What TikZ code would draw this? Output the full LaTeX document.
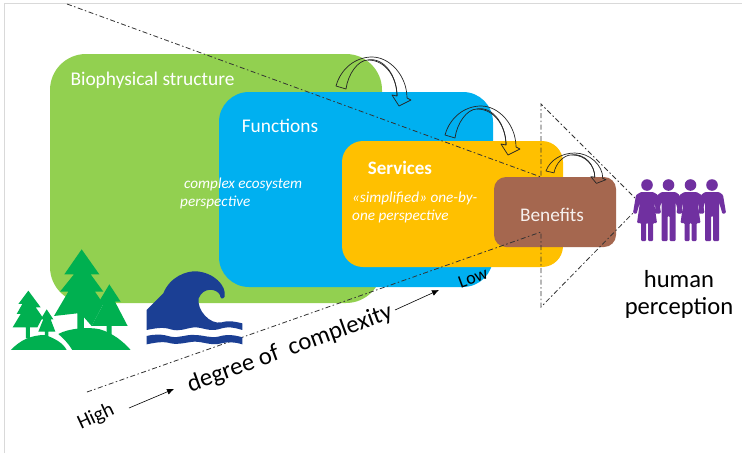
\documentclass[tikz,border=0pt]{standalone}
\usepackage{fontspec}
\setmainfont{Carlito}
\usetikzlibrary{arrows.meta}
\definecolor{gbox}{HTML}{92D050}
\definecolor{bbox}{HTML}{00B0F0}
\definecolor{obox}{HTML}{FFC000}
\definecolor{rbox}{HTML}{A5674F}
\definecolor{treecol}{HTML}{00B050}
\definecolor{wavecol}{HTML}{1B3F94}
\definecolor{ppl}{HTML}{7030A0}
\tikzset{
  wlabel/.style={text=white,inner sep=0pt},
  dashln/.style={draw=black!80,line width=.8pt,dash pattern=on 5pt off 2.5pt on 1.5pt off 2.5pt},
  bendln/.style={draw=black!85,line width=.7pt,fill=none,line join=round},
  rotlabel/.style={rotate=20,inner sep=0pt},
  zoomed/.style={x=.3333pt,y=-.3333pt}
}
\newcommand{\curvedarrow}{%
  \draw[bendln] (0,0) .. controls (5,-18) and (20,-29) .. (36,-29)
     .. controls (54,-29) and (71,-10) .. (71,12) -- (75,14) -- (63,20) -- (56,9) -- (61,10)
     .. controls (61,-8) and (50,-26) .. (32,-26)
     .. controls (22,-26) and (12,-12) .. (10,3) -- cycle;
  \draw[bendln] (32,-26) .. controls (48,-29) and (61,-10) .. (61,10);
}
\newcommand{\womanfig}{%
  \fill[ppl] (0,-25) circle (5.8);
  \fill[ppl,rounded corners=1pt] (-6,-18) -- (6,-18) -- (11,-15) -- (14,3) -- (10.5,4) -- (7,-8) -- (10,13) -- (6,13) -- (6,31) -- (1,31) -- (1,13) -- (-1,13) -- (-1,31) -- (-6,31) -- (-6,13) -- (-10,13) -- (-7,-8) -- (-10.5,4) -- (-14,3) -- (-11,-15) -- cycle;
}
\newcommand{\manfig}{%
  \fill[ppl] (0,-25) circle (5.8);
  \fill[ppl,rounded corners=1pt] (-7,-18) -- (7,-18) -- (11,-15) -- (14,3) -- (10.5,4) -- (7,-8) -- (7,31) -- (1,31) -- (1,6) -- (-1,6) -- (-1,31) -- (-7,31) -- (-7,-8) -- (-10.5,4) -- (-14,3) -- (-11,-15) -- cycle;
}
\begin{document}
\begin{tikzpicture}[x=1pt,y=-1pt]
\useasboundingbox (0,0) rectangle (742,453);
\fill[white] (0,0) rectangle (742,453);
% frame
\coordinate (fa) at (4,453); \coordinate (fb) at (4,3); \coordinate (fc) at (742,3);
\draw[black!15,line width=.7pt] (fa) -- (fb) -- (fc);
% boxes
\fill[gbox,rounded corners=36pt] (50,54) rectangle (382,303);
\fill[bbox,rounded corners=30pt] (219,92) rectangle (493,287);
\fill[obox,rounded corners=21pt] (342,141) rectangle (563,267);
\fill[rbox,rounded corners=12pt] (494,177) rectangle (616,247);
% labels in boxes
\node[wlabel,font=\fontsize{19.4}{22}\selectfont] (bio) at (152.5,80) {Biophysical structure};
\node[wlabel,font=\fontsize{19.4}{22}\selectfont] (fun) at (280,126) {Functions};
\node[wlabel,font=\fontsize{19}{22}\selectfont\bfseries] (ser) at (400,168) {Services};
\node[wlabel,font=\fontsize{15.2}{18}\selectfont\itshape,anchor=west] (ce1) at (184,184) {complex ecosystem};
\node[wlabel,font=\fontsize{15.2}{18}\selectfont\itshape,anchor=west] (ce2) at (180,202) {perspective};
\node[wlabel,font=\fontsize{15.2}{18}\selectfont\itshape,anchor=west] (si1) at (352,198) {«simplified» one-by-};
\node[wlabel,font=\fontsize{15.2}{18}\selectfont\itshape,anchor=west] (si2) at (352,216) {one perspective};
\node[text=white!90!rbox,inner sep=0pt,font=\fontsize{19.3}{22}\selectfont] (ben) at (552,215) {Benefits};
% curved arrows
\begin{scope}[shift={(336,86)}]\curvedarrow\end{scope}
\begin{scope}[shift={(445,135)}]\curvedarrow\end{scope}
\begin{scope}[shift={(546,171)},xscale=.8,yscale=.62]\curvedarrow\end{scope}
% dash-dot funnel
\coordinate (t0) at (67,4); \coordinate (t1) at (541,177); \coordinate (t2) at (541,104); \coordinate (t3) at (635,198);
\coordinate (b0) at (87,392); \coordinate (b1) at (541,232); \coordinate (b2) at (541,307); \coordinate (b3) at (635,211);
\draw[dashln] (t0) -- (t1) -- (t2) -- (t3);
\draw[dashln] (b0) -- (b1) -- (b2) -- (b3);
% trees
\begin{scope}[shift={(0,230)},zoomed]
  \fill[treecol] (245,58) -- (298,133) -- (272,133) -- (310,185) -- (285,185) -- (310,222) -- (275,288) -- (252,262) -- (252,300) -- (232,300) -- (232,250) -- (162,258) -- (205,185) -- (180,185) -- (222,133) -- (193,133) -- cycle;
  \fill[treecol] (328,163) -- (362,215) -- (345,215) -- (383,288) -- (335,288) -- (335,315) -- (320,315) -- (320,288) -- (275,288) -- (310,222) -- (297,215) -- cycle;
  \fill[treecol] (85,182) -- (122,232) -- (107,232) -- (128,262) -- (112,292) -- (90,292) -- (90,325) -- (78,325) -- (78,292) -- (38,292) -- (62,252) -- (50,252) -- (67,222) -- (55,222) -- cycle;
  \fill[treecol] (140,238) -- (160,268) -- (152,268) -- (166,305) -- (145,305) -- (145,325) -- (135,325) -- (135,305) -- (115,305) -- (130,268) -- (122,268) -- cycle;
  \fill[treecol] (33,360) .. controls (60,330) and (95,315) .. (135,315) .. controls (165,325) and (190,340) .. (200,360) -- cycle;
  \fill[treecol] (175,312) .. controls (205,295) and (265,290) .. (300,298) .. controls (340,310) and (370,335) .. (392,360) -- (217,360) .. controls (205,340) and (190,325) .. (175,312) -- cycle;
  % wave
  \fill[wavecol] (440,240) -- (490,190) .. controls (510,140) and (560,122) .. (590,124) .. controls (640,128) and (680,165) .. (674,200) .. controls (668,210) and (660,205) .. (660,195) .. controls (650,175) and (610,170) .. (596,205) .. controls (590,240) and (630,285) .. (665,277) .. controls (685,270) and (705,275) .. (727,280) -- (727,300) .. controls (700,292) and (685,288) .. (655,298) .. controls (625,305) and (610,292) .. (583,292) .. controls (555,295) and (540,306) .. (512,298) .. controls (490,290) and (465,295) .. (440,300) -- cycle;
  \fill[wavecol] (440,318) .. controls (465,312) and (485,312) .. (512,320) .. controls (540,325) and (555,313) .. (583,315) .. controls (610,315) and (630,325) .. (655,320) .. controls (680,312) and (705,315) .. (727,322) -- (727,343) .. controls (700,335) and (685,335) .. (655,342) .. controls (625,345) and (610,335) .. (583,335) .. controls (555,337) and (540,345) .. (512,340) .. controls (490,333) and (465,338) .. (440,343) -- cycle;
\end{scope}
% people
\begin{scope}[shift={(647,210)}]\womanfig\end{scope}
\begin{scope}[shift={(668.5,210)}]\manfig\end{scope}
\begin{scope}[shift={(690.5,210)}]\womanfig\end{scope}
\begin{scope}[shift={(712,210)}]\manfig\end{scope}
% complexity arrows and labels
\coordinate (a0) at (129,408); \coordinate (a1) at (174,389);
\coordinate (c0) at (395,310); \coordinate (c1) at (439,290);
\draw[-{Latex[length=7pt,width=6pt]},line width=.6pt] (a0) -- (a1);
\draw[-{Latex[length=7pt,width=6pt]},line width=.6pt] (c0) -- (c1);
\node[inner sep=0pt,rotate=25,font=\fontsize{20.5}{24}\selectfont] (hi) at (96,417) {High};
\node[rotlabel,font=\fontsize{18}{20}\selectfont] (lo) at (473,278) {Low};
\node[rotlabel,font=\fontsize{24.7}{28}\selectfont] (deg) at (290,349) {degree of\ \ complexity};
\node[inner sep=0pt,font=\fontsize{24.6}{28}\selectfont] (hu) at (679,279) {human};
\node[inner sep=0pt,font=\fontsize{24.6}{28}\selectfont] (pe) at (679,308) {perception};
\end{tikzpicture}
\end{document}
